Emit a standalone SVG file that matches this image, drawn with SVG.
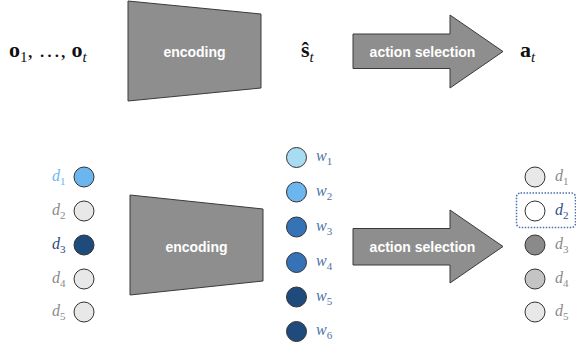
<svg xmlns="http://www.w3.org/2000/svg" width="576" height="347" viewBox="0 0 576 347">
<style>
.shape{fill:#8e8e8e;stroke:#3a3a3a;stroke-width:1}
.lbl{font-family:"Liberation Sans",Arial,sans-serif;font-weight:bold;font-size:14px;fill:#ffffff;text-anchor:middle}
.math{font-family:"Liberation Serif","Times New Roman",serif;font-size:22px;fill:#111}
.var{font-family:"Liberation Serif","Times New Roman",serif;font-style:italic;font-size:16px}
.sub{font-size:11px;font-style:normal}
.c{stroke:#333;stroke-width:1}
</style>
<rect width="576" height="347" fill="#ffffff"/>
<g id="obs">
<text class="math" x="9" y="57"><tspan font-weight="bold">o</tspan><tspan font-size="15" dy="5">1</tspan><tspan dy="-5">, …, </tspan><tspan font-weight="bold">o</tspan><tspan font-size="15" font-style="italic" dy="5">t</tspan></text>
</g>
<g id="encoding-top">
<polygon class="shape" points="128,1 261,14 261,88 128,101"/>
<text class="lbl" x="194.5" y="57">encoding</text>
</g>
<g id="state">
<text class="math" x="301" y="57"><tspan font-weight="bold">ŝ</tspan><tspan font-size="15" font-style="italic" dy="5">t</tspan></text>
</g>
<g id="action-top">
<polygon class="shape" points="353,34 450,34 450,15 503,51.5 450,88 450,68.5 353,68.5"/>
<text class="lbl" x="422.5" y="56.5">action selection</text>
</g>
<g id="action">
<text class="math" x="520" y="57"><tspan font-weight="bold">a</tspan><tspan font-size="15" font-style="italic" dy="5">t</tspan></text>
</g>
<g id="inputs">
<circle class="c" cx="84" cy="177" r="10" fill="#6cb6f0"/>
<circle class="c" cx="84" cy="211" r="10" fill="#e8e8e8"/>
<circle class="c" cx="84" cy="245" r="10" fill="#1f4a7c"/>
<circle class="c" cx="84" cy="279" r="10" fill="#e8e8e8"/>
<circle class="c" cx="84" cy="312" r="10" fill="#e8e8e8"/>
<text class="var" x="52" y="181" fill="#6cb6f0">d<tspan class="sub" dy="4">1</tspan></text>
<text class="var" x="52" y="215" fill="#8a8a8a">d<tspan class="sub" dy="4">2</tspan></text>
<text class="var" x="52" y="249" fill="#1f4a7c">d<tspan class="sub" dy="4">3</tspan></text>
<text class="var" x="52" y="283" fill="#8a8a8a">d<tspan class="sub" dy="4">4</tspan></text>
<text class="var" x="52" y="316" fill="#8a8a8a">d<tspan class="sub" dy="4">5</tspan></text>
</g>
<g id="encoding-bottom">
<polygon class="shape" points="130,195 263,209 263,281 130,295"/>
<text class="lbl" x="196.5" y="251.5">encoding</text>
</g>
<g id="weights">
<circle class="c" cx="296.5" cy="157.5" r="10" fill="#a8dcf2"/>
<circle class="c" cx="296.5" cy="192" r="10" fill="#6cb6f0"/>
<circle class="c" cx="296.5" cy="227" r="10" fill="#3573b6"/>
<circle class="c" cx="296.5" cy="262.5" r="10" fill="#3573b6"/>
<circle class="c" cx="296.5" cy="297" r="10" fill="#1f4a7c"/>
<circle class="c" cx="296.5" cy="331.5" r="10" fill="#1f4a7c"/>
<text class="var" x="316" y="161" fill="#4a72a8">w<tspan class="sub" dy="4">1</tspan></text>
<text class="var" x="316" y="195.5" fill="#4a72a8">w<tspan class="sub" dy="4">2</tspan></text>
<text class="var" x="316" y="230.5" fill="#4a72a8">w<tspan class="sub" dy="4">3</tspan></text>
<text class="var" x="316" y="266" fill="#4a72a8">w<tspan class="sub" dy="4">4</tspan></text>
<text class="var" x="316" y="300.5" fill="#4a72a8">w<tspan class="sub" dy="4">5</tspan></text>
<text class="var" x="316" y="335" fill="#4a72a8">w<tspan class="sub" dy="4">6</tspan></text>
</g>
<g id="action-bottom">
<polygon class="shape" points="353,228.5 450,228.5 450,210 503,246.5 450,283 450,265 353,265"/>
<text class="lbl" x="422.5" y="251.5">action selection</text>
</g>
<g id="outputs">
<rect x="516.5" y="193" width="59" height="34.5" rx="4" fill="none" stroke="#4a6fb5" stroke-width="1.5" stroke-dasharray="1.5,1.5"/>
<circle class="c" cx="535" cy="177" r="10" fill="#e8e8e8"/>
<circle class="c" cx="535" cy="211" r="10" fill="#ffffff"/>
<circle class="c" cx="535" cy="245" r="10" fill="#8a8a8a"/>
<circle class="c" cx="535" cy="279" r="10" fill="#c4c4c4"/>
<circle class="c" cx="535" cy="312" r="10" fill="#e8e8e8"/>
<text class="var" x="555" y="181" fill="#8a8a8a">d<tspan class="sub" dy="4">1</tspan></text>
<text class="var" x="555" y="215" fill="#2f4f8f">d<tspan class="sub" dy="4">2</tspan></text>
<text class="var" x="555" y="249" fill="#8a8a8a">d<tspan class="sub" dy="4">3</tspan></text>
<text class="var" x="555" y="283" fill="#8a8a8a">d<tspan class="sub" dy="4">4</tspan></text>
<text class="var" x="555" y="316" fill="#8a8a8a">d<tspan class="sub" dy="4">5</tspan></text>
</g>
<g id="connectors"></g>
</svg>
